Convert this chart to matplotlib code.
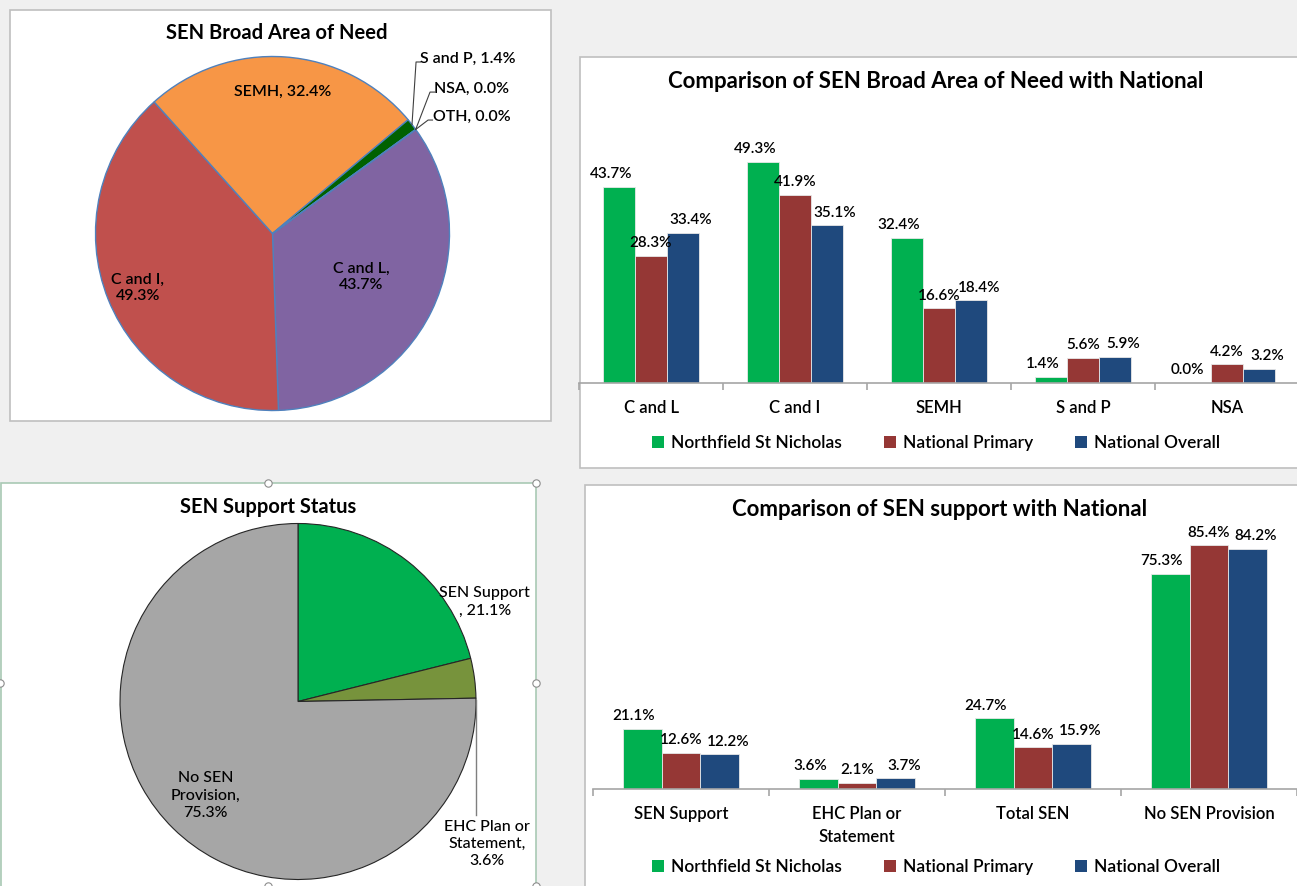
import numpy as np
import matplotlib
matplotlib.use("Agg")
import matplotlib.pyplot as plt
from matplotlib.patches import Rectangle, Patch

# ------------------------------------
# Data
# ------------------------------------
need_labels = ["C and L", "C and I", "SEMH", "S and P", "NSA", "OTH"]
need_school = [43.7, 49.3, 32.4, 1.4, 0.0, 0.0]
need_colors = ["#8064A2", "#C0504D", "#F79646", "#006100", "#4F81BD", "#4BACC6"]

cmp_need_cats    = ["C and L", "C and I", "SEMH", "S and P", "NSA"]
cmp_need_school  = [43.7, 49.3, 32.4, 1.4, 0.0]
cmp_need_primary = [28.3, 41.9, 16.6, 5.6, 4.2]
cmp_need_overall = [33.4, 35.1, 18.4, 5.9, 3.2]

support_labels = ["SEN Support", "EHC Plan or Statement", "No SEN Provision"]
support_school = [21.1, 3.6, 75.3]
support_colors = ["#00B050", "#77933C", "#A6A6A6"]

cmp_sup_cats    = ["SEN Support", "EHC Plan or\nStatement", "Total SEN", "No SEN Provision"]
cmp_sup_school  = [21.1, 3.6, 24.7, 75.3]
cmp_sup_primary = [12.6, 2.1, 14.6, 85.4]
cmp_sup_overall = [12.2, 3.7, 15.9, 84.2]

series_names  = ["Northfield St Nicholas", "National Primary", "National Overall"]
series_colors = ["#00B050", "#953735", "#1F497D"]

# ------------------------------------
# Layout helpers (pixel -> figure fraction)
# ------------------------------------
W, H, DPI = 1297, 886, 100
plt.rcParams['font.family'] = ['Lato', 'DejaVu Sans']
LBL_W = 'semibold'


def rect(x0, y0, x1, y1):
    return [x0 / W, 1 - y1 / H, (x1 - x0) / W, (y1 - y0) / H]


def fpt(px, py):
    return px / W, 1 - py / H


fig = plt.figure(figsize=(W / DPI, H / DPI), dpi=DPI, facecolor="#F0F0F0")

# panel backgrounds
bg = fig.add_axes([0, 0, 1, 1], zorder=-5)
bg.set_xlim(0, W)
bg.set_ylim(H, 0)
bg.axis('off')
panels = [(10, 10, 551, 421, '#BFBFBF'),
          (580, 57, 1320, 468, '#BFBFBF'),
          (0.5, 483, 536, 900, '#A9C9B4'),
          (585, 485, 1320, 900, '#BFBFBF')]
for x0, y0, x1, y1, ec in panels:
    bg.add_patch(Rectangle((x0, y0), x1 - x0, y1 - y0, facecolor='white', edgecolor=ec, lw=1.2))

# ------------------------------------
# Pie 1: SEN Broad Area of Need
# ------------------------------------
cx1, cy1, r1 = 272.5, 233.5, 177
ax1 = fig.add_axes(rect(cx1 - 1.3 * r1, cy1 - 1.3 * r1, cx1 + 1.3 * r1, cy1 + 1.3 * r1))
wedges1, _ = ax1.pie(need_school, colors=need_colors, startangle=36, counterclock=False,
                     wedgeprops=dict(edgecolor='#4F81BD', linewidth=1.0))
ax1.set_xlim(-1.3, 1.3)
ax1.set_ylim(-1.3, 1.3)

inside = {0: ("C and L,\n43.7%", 0.56), 1: ("C and I,\n49.3%", 0.82), 2: ("SEMH, 32.4%", 0.80)}
for i, (txt, rf) in inside.items():
    w = wedges1[i]
    a = np.deg2rad((w.theta1 + w.theta2) / 2)
    ax1.text(rf * np.cos(a), rf * np.sin(a), txt, ha='center', va='center', fontsize=11.5,
             fontweight=LBL_W, linespacing=1.25)

outside = {3: ("S and P, 1.4%", 0.836, 0.989),
           4: ("NSA, 0.0%", 0.915, 0.819),
           5: ("OTH, 0.0%", 0.904, 0.661)}
for i, (txt, tx, ty) in outside.items():
    w = wedges1[i]
    a = np.deg2rad((w.theta1 + w.theta2) / 2)
    ex, ey = np.cos(a), np.sin(a)
    ax1.plot([ex, tx - 0.025, tx], [ey, ty - 0.02, ty - 0.02], color='#404040', lw=0.8)
    ax1.text(tx, ty, txt, ha='left', va='center', fontsize=11.5, fontweight=LBL_W)

fig.text(*fpt(277, 33), "SEN Broad Area of Need", ha='center', va='center',
         fontsize=14.5, fontweight='bold')

# ------------------------------------
# Pie 2: SEN Support Status
# ------------------------------------
cx2, cy2, r2 = 298, 701.5, 178
ax2 = fig.add_axes(rect(cx2 - 1.3 * r2, cy2 - 1.3 * r2, cx2 + 1.3 * r2, cy2 + 1.3 * r2))
wedges2, _ = ax2.pie(support_school, colors=support_colors, startangle=90, counterclock=False,
                     wedgeprops=dict(edgecolor='#262626', linewidth=0.8))
ax2.set_xlim(-1.3, 1.3)
ax2.set_ylim(-1.3, 1.3)

ax2.text(1.05, 0.56, "SEN Support\n, 21.1%", ha='center', va='center', fontsize=11.5,
         fontweight='medium', linespacing=1.3)
w = wedges2[2]
a = np.deg2rad((w.theta1 + w.theta2) / 2)
ax2.text(0.74 * np.cos(a), 0.74 * np.sin(a), "No SEN\nProvision,\n75.3%", ha='center', va='center',
         fontsize=11.5, fontweight='medium', linespacing=1.3)
w = wedges2[1]
ax2.plot([1.0, 1.0], [np.sin(np.deg2rad(w.theta1)) - 0.01, -0.64], color='#7F7F7F', lw=1.0)
ax2.text(1.06, -0.80, "EHC Plan or\nStatement,\n3.6%", ha='center', va='center', fontsize=11.5,
         fontweight='medium', linespacing=1.3)

fig.text(*fpt(268, 507), "SEN Support Status", ha='center', va='center',
         fontsize=14.5, fontweight='bold')

# handles of the selected chart
hd = fig.add_axes([0, 0, 1, 1], zorder=10)
hd.set_xlim(0, W)
hd.set_ylim(H, 0)
hd.axis('off')
hd.scatter([0, 536, 268, 536, 268, 536], [683, 683, 483, 483, 886, 886], s=28,
           facecolor='white', edgecolor='#8C8C8C', lw=0.8, clip_on=False)


# ------------------------------------
# Bar charts
# ------------------------------------
LABEL_DX = [-6, 0, 6]   # Excel nudges the outer labels sideways


def bar_panel(box, cats, vals_list, ymax):
    ax = fig.add_axes(box)
    ax.set_facecolor('none')
    x = np.arange(len(cats))
    bw = 0.22
    for k, (vals, col) in enumerate(zip(vals_list, series_colors)):
        bars = ax.bar(x + (k - 1) * bw, vals, bw, color=col, edgecolor='#E8E8E8', linewidth=0.6)
        texts = ax.bar_label(bars, labels=[f"{v:.1f}%" for v in vals], padding=4, fontsize=11,
                             fontweight=LBL_W)
        for t in texts:
            t.xyann = (LABEL_DX[k], 4)
    ax.set_xlim(-0.5, len(cats) - 0.5)
    ax.set_ylim(0, ymax)
    for s in ['top', 'left', 'right']:
        ax.spines[s].set_visible(False)
    ax.spines['bottom'].set_color('#A6A6A6')
    ax.spines['bottom'].set_linewidth(1.2)
    ax.set_yticks([])
    ax.set_xticks(x)
    ax.set_xticklabels(cats, fontsize=12, fontweight=LBL_W, linespacing=1.6)
    ax.set_xticks(np.arange(len(cats) + 1) - 0.5, minor=True)
    ax.tick_params(axis='x', which='major', length=0, pad=12)
    ax.tick_params(axis='x', which='minor', length=5, color='#A6A6A6', width=1.2, direction='out')
    return ax


bar_panel(rect(579, 383 - 60 * 4.49, 579 + 5 * 144, 383), cmp_need_cats,
          [cmp_need_school, cmp_need_primary, cmp_need_overall], 60)
fig.text(*fpt(936, 82), "Comparison of SEN Broad Area of Need with National", ha='center',
         va='center', fontsize=16, fontweight='bold')

bar_panel(rect(593, 789 - 90 * 2.855, 593 + 4 * 176, 789), cmp_sup_cats,
          [cmp_sup_school, cmp_sup_primary, cmp_sup_overall], 90)
fig.text(*fpt(940, 509), "Comparison of SEN support with National", ha='center',
         va='center', fontsize=16, fontweight='bold')

handles = [Patch(facecolor=c, label=n) for c, n in zip(series_colors, series_names)]
for ly in [443, 867]:
    fig.legend(handles=handles, loc='center', bbox_to_anchor=fpt(936, ly), ncol=3, frameon=False,
               prop=dict(size=12.5, weight=LBL_W), handlelength=0.7, handleheight=0.7,
               handletextpad=0.4, columnspacing=2.4)

fig.savefig("out.png", dpi=DPI, facecolor=fig.get_facecolor())
